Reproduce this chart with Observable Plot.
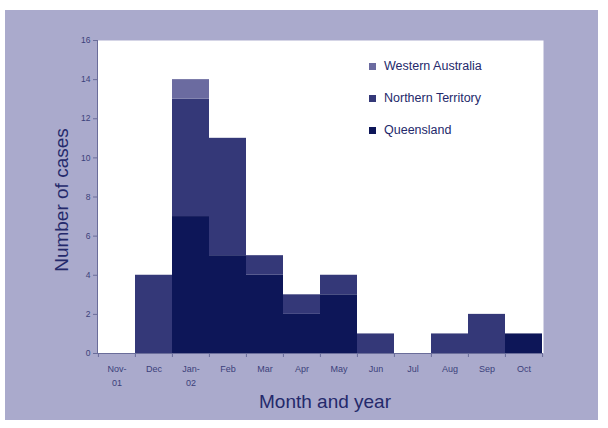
<!DOCTYPE html>
<html><head>
<meta charset="utf-8">
<script src="https://cdn.jsdelivr.net/npm/d3@7"></script>
<script src="https://cdn.jsdelivr.net/npm/@observablehq/plot@0.6"></script>
<style>
body{margin:0;background:#fff;font-family:"Liberation Sans",Arial,sans-serif;}
#wrap{position:absolute;left:5px;top:10px;width:593px;height:410px;background:#aaaacc;overflow:hidden;}
#chart{position:absolute;left:0;top:0;}
.ytitle{position:absolute;left:57px;top:190px;transform:translate(-50%,-50%) rotate(-90deg);font-size:19px;color:#24296b;white-space:nowrap;}
.xtitle{position:absolute;left:320px;top:392px;transform:translate(-50%,-50%);font-size:19px;color:#24296b;white-space:nowrap;}
#legend{position:absolute;left:364px;top:47px;font-size:12.5px;color:#24296b;}
#legend div{height:32px;line-height:18px;display:flex;align-items:flex-start;}
#legend span.sw{display:inline-block;width:7px;height:7px;margin:6px 8px 0 0;}
</style></head><body>
<div id="wrap"><div id="chart"></div><div class="ytitle">Number of cases</div><div class="xtitle">Month and year</div><div id="legend"></div></div>
<script>
const months = ["Nov-\n01","Dec","Jan-\n02","Feb","Mar","Apr","May","Jun","Jul","Aug","Sep","Oct"];
const queensland = [0,0,7,5,4,2,3,0,0,0,0,1];
const northernTerritory = [0,4,6,6,1,1,1,1,0,1,2,0];
const westernAustralia = [0,0,1,0,0,0,0,0,0,0,0,0];
const states = ["Queensland","Northern Territory","Western Australia"];
const colors = ["#0d1658","#343878","#6b6ba0"];
const yTicks = [0,2,4,6,8,10,12,14,16];
const legendOrder = ["Western Australia","Northern Territory","Queensland"];

const series = [queensland, northernTerritory, westernAustralia];
const data = [];
months.forEach((m, i) => states.forEach((s, j) => data.push({month: m, state: s, cases: series[j][i]})));

const W = 593, H = 410;
const mL = 92, mR = 55, mT = 30, mB = 67;
const band = (W - mL - mR) / months.length;

const chart = Plot.plot({
  width: W, height: H,
  marginLeft: mL, marginRight: mR, marginTop: mT, marginBottom: mB,
  style: {background: "transparent", fontFamily: "Liberation Sans, Arial, sans-serif", color: "#3b3f7a"},
  x: {type: "band", domain: months, padding: 0, label: null},
  y: {domain: [0, 16], label: null},
  color: {domain: states, range: colors},
  marks: [
    Plot.frame({fill: "white", stroke: "none"}),
    Plot.barY(data, {x: "month", y: "cases", fill: "state", order: states, inset: 0}),
    Plot.frame({anchor: "left", stroke: "#6a6d9a"}),
    Plot.ruleY([0], {stroke: "#6a6d9a"}),
    Plot.axisY({ticks: yTicks, tickSize: 4, tickPadding: 3, fontSize: 8.5, label: null, stroke: "#6a6d9a"}),
    Plot.axisX({tickSize: 0, tickPadding: 8, fontSize: 9, label: null, lineHeight: 1.6}),
    Plot.axisX({ticks: months, tickSize: 4, text: null, dx: -band / 2, stroke: "#6a6d9a", label: null}),
    Plot.axisX({ticks: [months[months.length - 1]], tickSize: 4, text: null, dx: band / 2, stroke: "#6a6d9a", label: null})
  ]
});
document.getElementById("chart").appendChild(chart);

const leg = document.getElementById("legend");
legendOrder.forEach(s => {
  const row = document.createElement("div");
  const sw = document.createElement("span");
  sw.className = "sw";
  sw.style.background = colors[states.indexOf(s)];
  row.appendChild(sw);
  row.appendChild(document.createTextNode(s));
  leg.appendChild(row);
});
</script>
</body></html>
